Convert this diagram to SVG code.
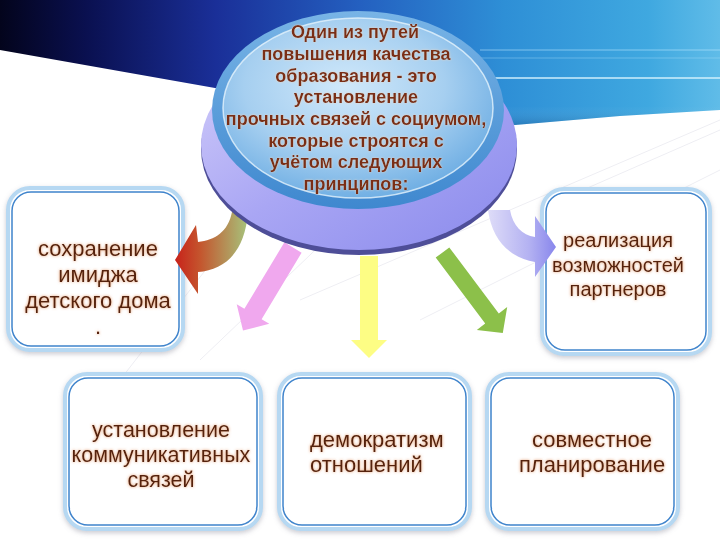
<svg xmlns="http://www.w3.org/2000/svg" width="720" height="540" viewBox="0 0 720 540">
<defs>
  <linearGradient id="banner" x1="0" y1="0" x2="1" y2="0">
    <stop offset="0" stop-color="#03041c"/>
    <stop offset="0.12" stop-color="#0a1050"/>
    <stop offset="0.3" stop-color="#1a2f98"/>
    <stop offset="0.5" stop-color="#2460c0"/>
    <stop offset="0.7" stop-color="#2e8fd6"/>
    <stop offset="0.9" stop-color="#3fa8e0"/>
    <stop offset="1" stop-color="#60bce8"/>
  </linearGradient>
  <linearGradient id="bannerV" x1="0" y1="0" x2="0" y2="1">
    <stop offset="0" stop-color="#ffffff" stop-opacity="0"/>
    <stop offset="0.85" stop-color="#ffffff" stop-opacity="0"/>
    <stop offset="1" stop-color="#000020" stop-opacity="0.15"/>
  </linearGradient>
  <radialGradient id="face" cx="0.45" cy="0.38" r="0.62">
    <stop offset="0" stop-color="#d0e8fa"/>
    <stop offset="0.6" stop-color="#a6cff0"/>
    <stop offset="1" stop-color="#72b0e4"/>
  </radialGradient>
  <linearGradient id="ring" x1="0" y1="0" x2="0" y2="1">
    <stop offset="0" stop-color="#78b4e6"/>
    <stop offset="1" stop-color="#3f88cf"/>
  </linearGradient>
  <linearGradient id="purple" x1="0" y1="0" x2="1" y2="1">
    <stop offset="0" stop-color="#d4cffa"/>
    <stop offset="0.5" stop-color="#a9a6f4"/>
    <stop offset="1" stop-color="#8a8aec"/>
  </linearGradient>
  <linearGradient id="redgreen" x1="175" y1="0" x2="248" y2="0" gradientUnits="userSpaceOnUse">
    <stop offset="0" stop-color="#c8221a"/>
    <stop offset="0.35" stop-color="#c4562e"/>
    <stop offset="1" stop-color="#a6c47c"/>
  </linearGradient>
  <linearGradient id="lav" x1="488" y1="0" x2="556" y2="0" gradientUnits="userSpaceOnUse">
    <stop offset="0" stop-color="#dedcf8"/>
    <stop offset="0.6" stop-color="#b4b2f2"/>
    <stop offset="1" stop-color="#8886ec"/>
  </linearGradient>
  <filter id="glow" x="-10%" y="-30%" width="120%" height="160%">
    <feGaussianBlur in="SourceAlpha" stdDeviation="1.6" result="b"/>
    <feFlood flood-color="#e08c58" flood-opacity="0.9"/>
    <feComposite in2="b" operator="in" result="g"/>
    <feMerge><feMergeNode in="g"/><feMergeNode in="SourceGraphic"/></feMerge>
  </filter>
  <filter id="glowC" x="-10%" y="-30%" width="120%" height="160%">
    <feGaussianBlur in="SourceAlpha" stdDeviation="1.3" result="b"/>
    <feFlood flood-color="#f2d2b8" flood-opacity="0.9"/>
    <feComposite in2="b" operator="in" result="g"/>
    <feMerge><feMergeNode in="g"/><feMergeNode in="SourceGraphic"/></feMerge>
  </filter>
  <filter id="shadow" x="-10%" y="-10%" width="120%" height="125%">
    <feGaussianBlur in="SourceAlpha" stdDeviation="2.5" result="b"/>
    <feOffset dy="2" result="o"/>
    <feFlood flood-color="#8a8a9a" flood-opacity="0.45"/>
    <feComposite in2="o" operator="in" result="s"/>
    <feMerge><feMergeNode in="s"/><feMergeNode in="SourceGraphic"/></feMerge>
  </filter>
</defs>
<style>
  .outer { fill: #ffffff; stroke: #b6d8f2; stroke-width: 4; }
  .inner { fill: none; stroke: #3f84cc; stroke-width: 1.5; }
  .bt { font-family: "Liberation Sans", Arial, sans-serif; fill: #55220f; text-anchor: middle; filter: url(#glow); }
  .ct { font-family: "Liberation Sans", Arial, sans-serif; font-weight: bold; font-size: 18px; fill: #7a2e12; text-anchor: middle; filter: url(#glowC); }
  .faint { stroke: #eeeef3; stroke-width: 1; fill: none; }
</style>

<!-- background -->
<rect x="0" y="0" width="720" height="540" fill="#ffffff"/>
<g id="bg-lines">
  <line class="faint" x1="120" y1="380" x2="330" y2="110"/>
  <line class="faint" x1="200" y1="360" x2="420" y2="150"/>
  <line class="faint" x1="300" y1="300" x2="720" y2="120"/>
  <line class="faint" x1="420" y1="320" x2="720" y2="170"/>
  <line class="faint" x1="560" y1="200" x2="720" y2="130"/>
</g>
<g id="banner">
  <polygon points="0,0 720,0 720,110 620,116 515,125 215,88 0,50" fill="url(#banner)"/>
  <polygon points="0,0 720,0 720,110 620,116 515,125 215,88 0,50" fill="url(#bannerV)"/>
  <line x1="480" y1="50" x2="720" y2="50" stroke="#bfeaff" stroke-width="1.2" opacity="0.55"/>
  <line x1="480" y1="78" x2="720" y2="78" stroke="#d8f4ff" stroke-width="1.8" opacity="0.7"/>
  <line x1="480" y1="58" x2="720" y2="58" stroke="#a8def8" stroke-width="1" opacity="0.4"/>
</g>

<!-- boxes -->
<g id="box-image" filter="url(#shadow)">
  <rect class="outer" x="8" y="188" width="175" height="162" rx="22"/>
  <rect class="inner" x="12" y="192" width="167" height="154" rx="19"/>
  <text class="bt" font-size="22" x="98" y="256">сохранение</text>
  <text class="bt" font-size="22" x="98" y="282">имиджа</text>
  <text class="bt" font-size="22" x="98" y="308">детского дома</text>
  <text class="bt" font-size="22" x="98" y="334">.</text>
</g>
<g id="box-partners" filter="url(#shadow)">
  <rect class="outer" x="542" y="189" width="168" height="165" rx="22"/>
  <rect class="inner" x="546" y="193" width="160" height="157" rx="19"/>
  <text class="bt" font-size="20" x="618" y="247">реализация</text>
  <text class="bt" font-size="20" x="618" y="272">возможностей</text>
  <text class="bt" font-size="20" x="618" y="296">партнеров</text>
</g>
<g id="box-communication" filter="url(#shadow)">
  <rect class="outer" x="65" y="374" width="196" height="155" rx="22"/>
  <rect class="inner" x="69" y="378" width="188" height="147" rx="19"/>
  <text class="bt" font-size="21.5" x="161" y="437">установление</text>
  <text class="bt" font-size="21.5" x="161" y="462">коммуникативных</text>
  <text class="bt" font-size="21.5" x="161" y="487">связей</text>
</g>
<g id="box-democracy" filter="url(#shadow)">
  <rect class="outer" x="279" y="374" width="191" height="155" rx="22"/>
  <rect class="inner" x="283" y="378" width="183" height="147" rx="19"/>
  <text class="bt" font-size="22" x="310" y="447" style="text-anchor:start">демократизм</text>
  <text class="bt" font-size="22" x="310" y="472" style="text-anchor:start">отношений</text>
</g>
<g id="box-planning" filter="url(#shadow)">
  <rect class="outer" x="487" y="374" width="191" height="155" rx="22"/>
  <rect class="inner" x="491" y="378" width="183" height="147" rx="19"/>
  <text class="bt" font-size="22" x="592" y="447">совместное</text>
  <text class="bt" font-size="22" x="592" y="472">планирование</text>
</g>

<!-- connectors -->
<g id="connectors">
  <path d="M 232 212 C 228 232, 215 240, 198 242 L 196 225 L 175 260 L 198 294 L 198 272 C 225 270, 245 252, 248 212 Z" fill="url(#redgreen)"/>
  <polygon points="284.4,242.3 301.6,252.7 261.6,319.2 269.3,323.8 243,330.5 236.7,304.2 244.4,308.8" fill="#f0a8ee"/>
  <polygon points="360,256 378,256 378,340 387,340 369,358 351,340 360,340" fill="#fdfd84"/>
  <polygon points="449.3,247.4 498.8,313.4 507.2,307.1 502.8,332.9 476.8,329.9 485.2,323.6 435.7,257.6" fill="#8cc04a"/>
  <path d="M 488 210 C 492 240, 510 258, 535 262 L 535 277 L 556 247 L 535 216 L 535 237 C 522 235, 513 226, 510 210 Z" fill="url(#lav)"/>
</g>

<!-- central disc -->
<g id="center">
  <ellipse cx="359" cy="149" rx="158" ry="106" fill="#4e4e98"/>
  <ellipse cx="359" cy="145" rx="158" ry="105" fill="url(#purple)"/>
  <ellipse cx="358" cy="110" rx="146" ry="99" fill="url(#ring)"/>
  <ellipse cx="358" cy="108" rx="135" ry="90" fill="url(#face)"/>
  <ellipse cx="358" cy="108" rx="135" ry="90" fill="none" stroke="#e6f4fd" stroke-width="1.5" opacity="0.8"/>
  <text class="ct" x="355" y="38">Один из путей</text>
  <text class="ct" x="356" y="60">повышения качества</text>
  <text class="ct" x="356" y="82">образования - это</text>
  <text class="ct" x="356" y="103">установление</text>
  <text class="ct" x="356" y="125">прочных связей с социумом,</text>
  <text class="ct" x="356" y="147">которые строятся с</text>
  <text class="ct" x="356" y="168">учётом следующих</text>
  <text class="ct" x="356" y="190">принципов:</text>
</g>
</svg>
